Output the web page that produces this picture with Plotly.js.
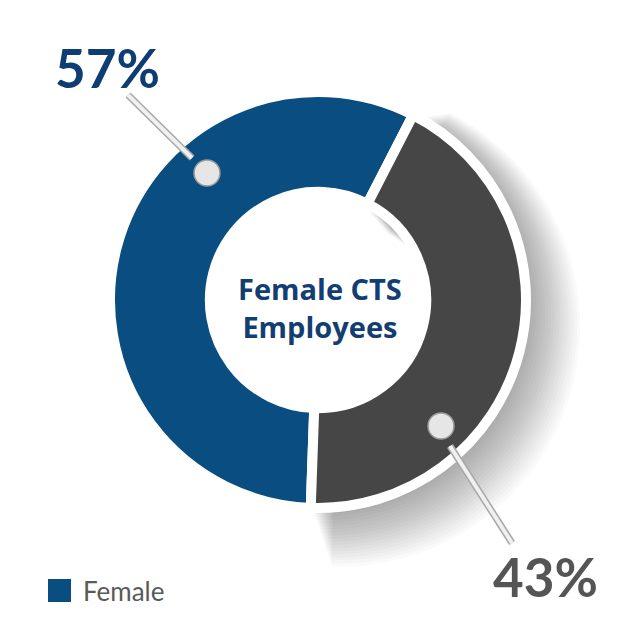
<!DOCTYPE html>
<html><head><meta charset="utf-8">
<script src="https://cdn.plot.ly/plotly-3.0.1.min.js"></script>
<style>html,body{margin:0;padding:0;background:#fff}#c{width:640px;height:640px}</style>
</head><body><div id="c"></div>
<script>
const labels = ["Female", "Male"];
const values = [57, 43];
const valueLabels = ["57%", "43%"];
const sliceColors = ["#0a4d80", "#464646"];
const centerTitle = "Female CTS<br>Employees";
const legendLabel = "Female";

const W = 640, H = 640;
const px = x => x / W, py = y => 1 - y / H;
const cx = 318, cy = 300, R = 208, ROT = 182;
const dom = (dx, dy, dr) => ({
  x: [px(cx + dx - R - dr), px(cx + dx + R + dr)],
  y: [py(cy + dy + R + dr), py(cy + dy - R - dr)]
});

const traces = [];
// soft shadow layers under the grey slice
for (let k = 1; k <= 18; k++) {
  const rr = R + k * 1.8;
  traces.push({
    type: "pie", labels: labels, values: values, sort: false,
    direction: "clockwise", rotation: ROT, hole: 104 / rr,
    domain: dom(2 + k * 1.1, 3 + k * 1.3, k * 1.8),
    marker: { colors: ["rgba(0,0,0,0)", "rgba(0,0,0,0.02)"], line: { width: 0 } },
    textinfo: "none", hoverinfo: "skip", showlegend: false
  });
}
traces.push({
  type: "pie", labels: labels, values: values, sort: false,
  direction: "clockwise", rotation: ROT, hole: 0.52,
  domain: dom(0, 0, 0),
  marker: { colors: sliceColors, line: { color: "#ffffff", width: 10 } },
  textinfo: "none", showlegend: false
});

const knob = (x, y) => ({ type: "circle", xref: "paper", yref: "paper",
  x0: px(x - 13), x1: px(x + 13), y0: py(y + 13), y1: py(y - 13),
  fillcolor: "#e6e6e6", line: { color: "#9a9a9a", width: 1.5 } });
const stick = (x0, y0, x1, y1) => ([
  { type: "line", xref: "paper", yref: "paper", x0: px(x0), y0: py(y0), x1: px(x1), y1: py(y1),
    line: { color: "#a8a8a8", width: 7 } },
  { type: "line", xref: "paper", yref: "paper", x0: px(x0), y0: py(y0), x1: px(x1), y1: py(y1),
    line: { color: "#f0f0f0", width: 4 } }
]);

const layout = {
  width: W, height: H, margin: { l: 0, r: 0, t: 0, b: 0 },
  paper_bgcolor: "#ffffff", plot_bgcolor: "#ffffff", showlegend: false,
  shapes: [
    ...stick(128, 95, 192, 158), knob(207, 173),
    ...stick(450, 446, 512, 543), knob(441, 426),
    { type: "rect", xref: "paper", yref: "paper", x0: px(48), x1: px(71), y0: py(602), y1: py(579),
      fillcolor: sliceColors[0], line: { width: 0 } }
  ],
  annotations: [
    { text: valueLabels[0], x: px(107), y: py(67), xref: "paper", yref: "paper", showarrow: false,
      xanchor: "center", yanchor: "middle",
      font: { family: "Lato", size: 53, color: "#0d3d73", weight: 700 } },
    { text: valueLabels[1], x: px(545), y: py(576), xref: "paper", yref: "paper", showarrow: false,
      xanchor: "center", yanchor: "middle",
      font: { family: "Lato", size: 53, color: "#555555", weight: 700 } },
    { text: centerTitle, x: px(320), y: py(307), xref: "paper", yref: "paper", showarrow: false,
      xanchor: "center", yanchor: "middle",
      font: { family: "Open Sans", size: 29, color: "#123e72", weight: 700 } },
    { text: legendLabel, x: px(81), y: py(591), xref: "paper", yref: "paper", showarrow: false,
      xanchor: "left", yanchor: "middle", font: { family: "Lato", size: 26, color: "#5a5a5a" } }
  ]
};
Plotly.newPlot("c", traces, layout, { displayModeBar: false, staticPlot: true });
</script></body></html>
